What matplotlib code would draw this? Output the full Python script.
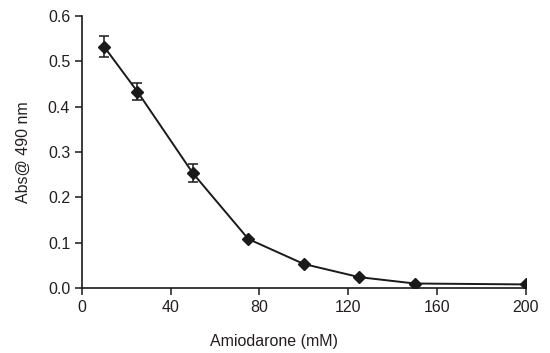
import matplotlib
matplotlib.use("Agg")
import matplotlib.pyplot as plt

# data
conc = [10, 25, 50, 75, 100, 125, 150, 200]
absorb = [0.532, 0.433, 0.253, 0.108, 0.053, 0.024, 0.010, 0.008]
err = [0.023, 0.018, 0.020, 0, 0, 0, 0, 0]

xticks = [0, 40, 80, 120, 160, 200]
yticks = [0.0, 0.1, 0.2, 0.3, 0.4, 0.5, 0.6]

plt.rcParams['font.family'] = ['Liberation Sans Narrow', 'Liberation Sans', 'DejaVu Sans']
txt = '#231f20'

fig = plt.figure(figsize=(5.5, 3.53), dpi=100)
ax = fig.add_axes([0.149, 0.184, 0.807, 0.771])

ax.errorbar(conc, absorb, yerr=err, color='#1a1a1a', marker='D', markersize=6.5,
            linewidth=1.4, elinewidth=1.1, capsize=3.5, capthick=1.1)

ax.set_xlim(0, 200)
ax.set_ylim(0, 0.6)
ax.set_xticks(xticks)
ax.set_yticks(yticks)
ax.set_yticklabels([f"{v:.1f}" for v in yticks])
for s in ['top', 'right']:
    ax.spines[s].set_visible(False)
for s in ['left', 'bottom']:
    ax.spines[s].set_linewidth(1.2)
    ax.spines[s].set_color('#1a1a1a')
ax.tick_params(direction='out', length=5, width=1.1, colors='#1a1a1a',
               labelcolor=txt, labelsize=11.5)

ax.set_xlabel('Amiodarone (mM)', fontsize=11.5, color=txt, labelpad=14, x=0.432)
ax.set_ylabel('Abs@ 490 nm', fontsize=11.5, color=txt, labelpad=12)

fig.savefig('out.png', dpi=100)
